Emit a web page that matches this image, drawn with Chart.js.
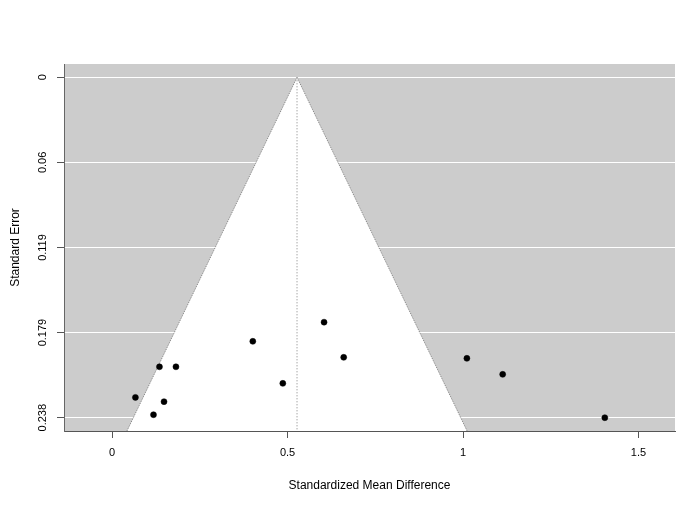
<!DOCTYPE html>
<html>
<head>
<meta charset="utf-8">
<script src="https://cdn.jsdelivr.net/npm/chart.js@4/dist/chart.umd.min.js"></script>
<style>
html,body{margin:0;padding:0;background:#fff;}
#wrap{width:700px;height:510px;}
</style>
</head>
<body>
<div id="wrap"><canvas id="c" width="700" height="510"></canvas></div>
<script>
// ---- data ----
const smd = [0.0665, 0.118, 0.135, 0.148, 0.182, 0.401, 0.4865, 0.604, 0.660, 1.011, 1.113, 1.404];
const se  = [0.2238, 0.2359, 0.2024, 0.2268, 0.2024, 0.1846, 0.214, 0.1712, 0.1958, 0.1965, 0.2077, 0.238];
const pooled = 0.527;
const xTicks = [0, 0.5, 1, 1.5];
const xTickLabels = ["0", "0.5", "1", "1.5"];
const seTicks = [0, 0.0595, 0.119, 0.1785, 0.238];
const seTickLabels = ["0", "0.06", "0.119", "0.179", "0.238"];
const xRange = [-0.137, 1.604];
const seRange = [-0.0093, 0.2473];

const points = smd.map((v, i) => ({x: v, y: se[i]}));
const seBottom = seRange[1];
const funnel = [
  {x: pooled - 1.96 * seBottom, y: seBottom},
  {x: pooled, y: 0},
  {x: pooled + 1.96 * seBottom, y: seBottom}
];
const centerLine = [{x: pooled, y: 0}, {x: pooled, y: seBottom}];

const FONT = "'Liberation Sans', Arial, Helvetica, sans-serif";

const bgPlugin = {
  id: 'bg',
  beforeDraw(chart) {
    const {ctx, chartArea: a} = chart;
    ctx.save();
    ctx.fillStyle = '#cccccc';
    ctx.fillRect(a.left, a.top, a.right - a.left, a.bottom - a.top);
    ctx.restore();
  }
};

new Chart(document.getElementById('c'), {
  type: 'scatter',
  data: {
    datasets: [
      {
        data: funnel,
        showLine: true,
        fill: 'shape',
        backgroundColor: '#ffffff',
        borderColor: '#808080',
        borderWidth: 1,
        borderDash: [1, 1],
        pointRadius: 0,
        tension: 0,
        order: 3
      },
      {
        data: centerLine,
        showLine: true,
        fill: false,
        borderColor: '#808080',
        borderWidth: 1,
        borderDash: [1, 2],
        pointRadius: 0,
        order: 2
      },
      {
        data: points,
        showLine: false,
        pointRadius: 3,
        pointBackgroundColor: '#000',
        pointBorderColor: '#000',
        pointBorderWidth: 0.5,
        order: 1
      }
    ]
  },
  options: {
    responsive: false,
    animation: false,
    devicePixelRatio: 1,
    layout: {padding: {top: 64, right: 25, left: 0, bottom: 0}},
    plugins: {legend: {display: false}, tooltip: {enabled: false}},
    scales: {
      x: {
        type: 'linear',
        min: xRange[0],
        max: xRange[1],
        afterBuildTicks: s => { s.ticks = xTicks.map(v => ({value: v})); },
        afterFit: s => { s.height = 79; },
        ticks: {
          callback: (v, i) => xTickLabels[i],
          font: {family: FONT, size: 11},
          color: '#000',
          padding: 8,
          maxRotation: 0,
          autoSkip: false
        },
        grid: {drawOnChartArea: false, drawTicks: true, tickLength: 7, tickColor: '#555', tickWidth: 1},
        border: {display: true, color: '#555', width: 1},
        title: {
          display: true,
          text: 'Standardized Mean Difference',
          font: {family: FONT, size: 12},
          color: '#000',
          padding: {top: 0, bottom: 17}
        }
      },
      y: {
        type: 'linear',
        reverse: true,
        min: seRange[0],
        max: seRange[1],
        afterBuildTicks: s => { s.ticks = seTicks.map(v => ({value: v})); },
        afterFit: s => { s.width = 64; },
        ticks: {
          callback: (v, i) => seTickLabels[i],
          font: {family: FONT, size: 11},
          color: '#000',
          padding: 0,
          minRotation: 90,
          maxRotation: 90,
          crossAlign: 'center',
          autoSkip: false
        },
        grid: {color: '#ffffff', lineWidth: 1, drawTicks: true, tickLength: 7, tickColor: '#555', tickWidth: 1},
        border: {display: true, color: '#666', width: 1},
        title: {
          display: true,
          text: 'Standard Error',
          font: {family: FONT, size: 12},
          color: '#000',
          padding: {top: 8, bottom: 0}
        }
      }
    }
  },
  plugins: [bgPlugin]
});
</script>
</body>
</html>
